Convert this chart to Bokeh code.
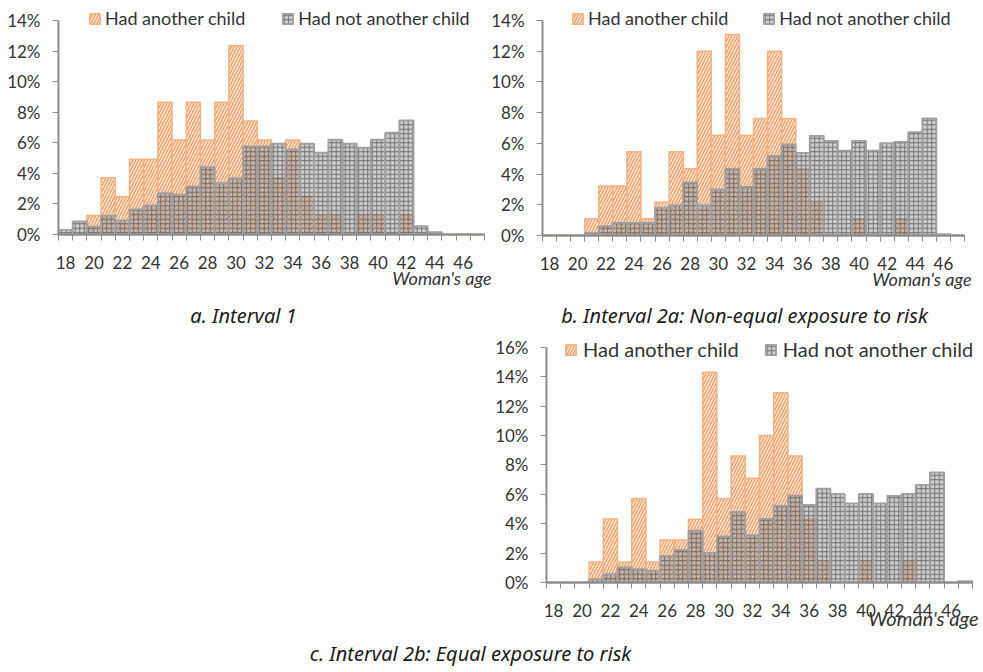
from bokeh.plotting import figure
from bokeh.layouts import column, row
from bokeh.models import (FixedTicker, PrintfTickFormatter, Label, Legend, LegendItem,
                          ColumnDataSource, Range1d)
from bokeh.embed import file_html
from bokeh.resources import INLINE

# ---------------- data (percent of women, by age) ----------------
ages = list(range(18, 48))
x_tick_labels = list(range(18, 47, 2))

a_had = [0, 0, 1.24, 3.71, 2.47, 4.93, 4.93, 8.65, 6.18, 8.65, 6.18, 8.65, 12.36, 7.42, 6.18,
         3.71, 6.18, 2.5, 1.24, 1.24, 0, 1.24, 1.24, 0, 1.24, 0, 0, 0, 0, 0]
a_not = [0.3, 0.85, 0.52, 1.24, 0.92, 1.64, 1.9, 2.7, 2.6, 3.14, 4.41, 3.36, 3.69, 5.76, 5.76,
         5.94, 5.57, 5.94, 5.35, 6.2, 5.94, 5.68, 6.2, 6.66, 7.47, 0.55, 0.15, 0, 0, 0]

b_had = [0, 0, 0, 1.09, 3.23, 3.23, 5.45, 1.09, 2.17, 5.45, 4.34, 12.0, 6.53, 13.09, 6.53,
         7.62, 12.0, 7.62, 4.34, 2.17, 0, 0, 1.09, 0, 0, 1.09, 0, 0, 0, 0]
b_not = [0, 0, 0, 0.17, 0.61, 0.82, 0.82, 0.82, 1.82, 1.97, 3.45, 1.97, 3.0, 4.34, 3.17,
         4.34, 5.19, 5.93, 5.38, 6.49, 6.16, 5.53, 6.16, 5.53, 6.01, 6.1, 6.73, 7.62, 0.09, 0]

c_had = [0, 0, 0, 1.4, 4.33, 1.4, 5.71, 1.4, 2.9, 2.9, 4.3, 14.32, 5.71, 8.61, 7.09,
         10.0, 12.92, 8.61, 4.33, 1.4, 0, 0, 1.4, 0, 0, 1.4, 0, 0, 0, 0]
c_not = [0, 0, 0, 0.23, 0.57, 1.02, 0.91, 0.8, 1.81, 2.22, 3.53, 2.02, 3.13, 4.8, 3.22,
         4.33, 5.21, 5.91, 5.28, 6.39, 6.03, 5.39, 6.03, 5.39, 5.89, 6.03, 6.64, 7.5, 0, 0.1]

series_names = ["Had another child", "Had not another child"]
captions = ["a. Interval 1",
            "b. Interval 2a: Non-equal exposure to risk",
            "c. Interval 2b: Equal exposure to risk"]
x_axis_title = "Woman's age"

# ---------------- styling ----------------
TICK_FONT = "Lato"
CAP_FONT = "Noto Sans"
TXT = "#333333"
AXIS = "#8c8c8c"


def make_panel(had, nothad, ymax, box, xl, sx, yz, sy, legend_cfg, caption, cap_px, title_cfg):
    """box = (X0, X1, Y0, Y1) page pixels of the canvas; the frame fills the canvas and
    the axes are pinned at age 17.5 / value 0 so that texts below stay inside the frame."""
    X0, X1, Y0, Y1 = box
    x_start = 17.5 - (xl - X0) / sx
    x_end = 17.5 + (X1 - xl) / sx
    y_end = (yz - Y0) / sy
    y_start = -(Y1 - yz) / sy

    p = figure(width=X1 - X0, height=Y1 - Y0, output_backend="svg", toolbar_location=None,
               x_range=Range1d(x_start, x_end), y_range=Range1d(y_start, y_end),
               min_border_left=0, min_border_right=0, min_border_top=0, min_border_bottom=0)
    p.outline_line_color = None
    p.grid.grid_line_color = None
    p.background_fill_color = None
    p.border_fill_color = None

    src = ColumnDataSource(dict(age=ages, had=had, nothad=nothad))
    r1 = p.vbar(x="age", top="had", width=1, source=src,
                fill_color="#fce4d3", line_color="#f4b183", line_width=1.5,
                hatch_pattern="/", hatch_color="#ee8a45", hatch_alpha=0.9,
                hatch_scale=6, hatch_weight=1.1)
    r2 = p.vbar(x="age", top="nothad", width=1, source=src,
                fill_color="#a6a6a6", fill_alpha=0.55, line_color="#a0a0a0", line_width=1.8,
                hatch_pattern="+", hatch_color="#555555", hatch_alpha=0.75,
                hatch_scale=4.5, hatch_weight=1)

    xa = p.xaxis[0]
    xa.fixed_location = 0
    xa.ticker = FixedTicker(ticks=x_tick_labels, minor_ticks=[a - 0.5 for a in range(18, 49)])
    xa.bounds = (17.5, 47.5)
    xa.major_tick_out = 0
    xa.major_tick_in = 0
    xa.minor_tick_out = 6
    xa.minor_tick_in = 0
    xa.minor_tick_line_color = AXIS
    xa.minor_tick_line_width = 1
    xa.axis_line_color = AXIS
    xa.axis_line_width = 2
    xa.major_label_standoff = 15
    xa.major_label_text_font = TICK_FONT
    xa.major_label_text_font_size = "17px"
    xa.major_label_text_color = TXT

    ya = p.yaxis[0]
    ya.fixed_location = 17.5
    ya.ticker = FixedTicker(ticks=list(range(0, ymax + 1, 2)))
    ya.formatter = PrintfTickFormatter(format="%d%%")
    ya.bounds = (0, ymax)
    ya.major_tick_out = 6
    ya.major_tick_in = 0
    ya.major_tick_line_color = AXIS
    ya.minor_tick_line_color = None
    ya.axis_line_color = AXIS
    ya.axis_line_width = 2
    ya.major_label_standoff = 12
    ya.major_label_text_font = TICK_FONT
    ya.major_label_text_font_size = "17px"
    ya.major_label_text_color = TXT

    (lx, ly), lfont, lspacing, lstand = legend_cfg
    legend = Legend(items=[LegendItem(label=series_names[0], renderers=[r1]),
                           LegendItem(label=series_names[1], renderers=[r2])],
                    orientation="horizontal", location=(lx, ly),
                    padding=0, margin=0, spacing=lspacing, label_standoff=lstand,
                    glyph_width=13, glyph_height=13,
                    border_line_color=None, background_fill_alpha=0,
                    label_text_font=TICK_FONT, label_text_font_size=lfont,
                    label_text_color=TXT)
    p.add_layout(legend)

    (tx_px, ty_px), tfont = title_cfg
    p.add_layout(Label(x=17.5 + (tx_px - xl) / sx, y=-(ty_px - yz) / sy, text=x_axis_title,
                       text_align="right", text_baseline="middle",
                       text_font=TICK_FONT, text_font_style="italic",
                       text_font_size=tfont, text_color=TXT))
    p.add_layout(Label(x=17.5 + (cap_px[0] - xl) / sx, y=-(cap_px[1] - yz) / sy, text=caption,
                       text_align="center", text_baseline="middle",
                       text_font=CAP_FONT, text_font_style="italic",
                       text_font_size="20px", text_color="#1a1a1a"))
    return p


pa = make_panel(a_had, a_not, 14, (2, 494, 2, 330), 60, 426 / 30, 236, 15.28,
                ((88, 299), "18px", 36, 4), captions[0], (245, 317), ((493, 279), "18px"))
pb = make_panel(b_had, b_not, 14, (494, 981, 2, 330), 544, 422 / 30, 237, 15.36,
                ((79, 299), "18px", 34, 4), captions[1], (746, 317), ((973, 280), "18px"))
pc = make_panel(c_had, c_not, 16, (2, 981, 330, 670), 548, 426 / 30, 584, 14.69,
                ((564, 307), "20px", 25, 6), captions[2], (472, 655), ((980, 619), "20px"))

layout = column(row(pa, pb), pc)

open("out.html", "w").write(file_html(layout, INLINE))
